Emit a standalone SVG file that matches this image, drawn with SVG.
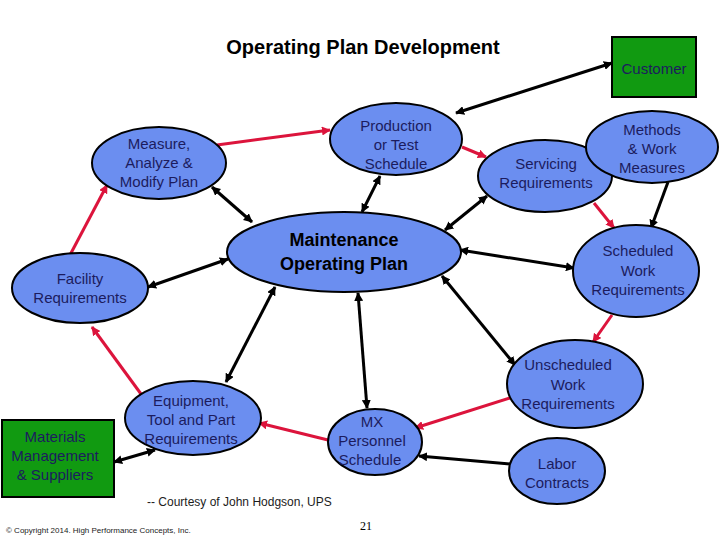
<svg xmlns="http://www.w3.org/2000/svg" width="720" height="540" viewBox="0 0 720 540">
<defs>
<style>
.n{fill:#6b8ef0;stroke:#000;stroke-width:2}
.g{fill:#119a11;stroke:#000;stroke-width:2}
.t{font-family:"Liberation Sans",Arial,sans-serif;font-size:15px;fill:#1c1c5e;text-anchor:middle}
.b{font-family:"Liberation Sans",Arial,sans-serif;font-size:18px;font-weight:bold;fill:#000;text-anchor:middle}
.r{stroke:#dc143c;stroke-width:3;fill:none;marker-end:url(#ar)}
.k{stroke:#000;stroke-width:3;fill:none;marker-end:url(#ak)}
.d{marker-start:url(#aks)}
</style>
<marker id="ar" viewBox="0 0 10 10" refX="9" refY="5" markerWidth="3" markerHeight="3" orient="auto"><path d="M0,0L10,5L0,10z" fill="#dc143c"/></marker>
<marker id="ak" viewBox="0 0 10 10" refX="9" refY="5" markerWidth="3" markerHeight="3" orient="auto"><path d="M0,0L10,5L0,10z" fill="#000"/></marker>
<marker id="aks" viewBox="0 0 10 10" refX="1" refY="5" markerWidth="3" markerHeight="3" orient="auto"><path d="M10,0L0,5L10,10z" fill="#000"/></marker>
</defs>
<rect width="720" height="540" fill="#fff"/>
<text x="363" y="54" font-family="Liberation Sans,Arial,sans-serif" font-size="20" font-weight="bold" text-anchor="middle">Operating Plan Development</text>
<g id="connectors">
<line class="r" x1="217" y1="145" x2="330" y2="130"/>
<line class="r" x1="70" y1="255" x2="107" y2="185"/>
<line class="r" x1="141" y1="394" x2="92" y2="327"/>
<line class="r" x1="328" y1="440" x2="259" y2="423"/>
<line class="r" x1="510" y1="398" x2="415" y2="428"/>
<line class="r" x1="612" y1="315" x2="593" y2="342"/>
<line class="r" x1="594" y1="203" x2="614" y2="228"/>
<line class="r" x1="462" y1="147" x2="486" y2="157"/>
<line class="k d" x1="456" y1="113" x2="612" y2="63"/>
<line class="k d" x1="252" y1="222" x2="212" y2="187"/>
<line class="k d" x1="362" y1="212" x2="380" y2="176"/>
<line class="k d" x1="228" y1="259" x2="148" y2="287"/>
<line class="k d" x1="445" y1="230" x2="487" y2="196"/>
<line class="k d" x1="460" y1="250" x2="574" y2="268"/>
<line class="k d" x1="442" y1="276" x2="515" y2="365"/>
<line class="k d" x1="358" y1="293" x2="367" y2="408"/>
<line class="k d" x1="275" y1="287" x2="226" y2="382"/>
<line class="k" x1="668" y1="182" x2="651" y2="228"/>
<line class="k d" x1="114" y1="462" x2="155" y2="450"/>
<line class="k" x1="510" y1="464" x2="419" y2="456"/>
</g>
<g id="customer"><rect class="g" x="612" y="37" width="84" height="60"/><text class="t" x="654" y="74">Customer</text></g>
<g id="measure"><ellipse class="n" cx="159" cy="163" rx="67" ry="36"/><text class="t" x="159" y="149">Measure,</text><text class="t" x="159" y="168">Analyze &amp;</text><text class="t" x="159" y="187">Modify Plan</text></g>
<g id="production"><ellipse class="n" cx="396" cy="139" rx="66" ry="36"/><text class="t" x="396" y="131">Production</text><text class="t" x="396" y="150">or Test</text><text class="t" x="396" y="169">Schedule</text></g>
<g id="maintenance"><ellipse class="n" cx="344" cy="252" rx="117" ry="40"/><text class="b" x="344" y="246">Maintenance</text><text class="b" x="344" y="270">Operating Plan</text></g>
<g id="facility"><ellipse class="n" cx="80" cy="288" rx="68" ry="35"/><text class="t" x="80" y="284">Facility</text><text class="t" x="80" y="303">Requirements</text></g>
<g id="servicing"><ellipse class="n" cx="545" cy="176" rx="67" ry="36"/><text class="t" x="546" y="169">Servicing</text><text class="t" x="546" y="188">Requirements</text></g>
<g id="methods"><ellipse class="n" cx="652" cy="147" rx="66" ry="36"/><text class="t" x="652" y="135">Methods</text><text class="t" x="652" y="154">&amp; Work</text><text class="t" x="652" y="173">Measures</text></g>
<g id="scheduled"><ellipse class="n" cx="636" cy="271" rx="63" ry="46"/><text class="t" x="638" y="256">Scheduled</text><text class="t" x="638" y="276">Work</text><text class="t" x="638" y="295">Requirements</text></g>
<g id="unscheduled"><ellipse class="n" cx="575" cy="384" rx="68" ry="44"/><text class="t" x="568" y="370">Unscheduled</text><text class="t" x="568" y="390">Work</text><text class="t" x="568" y="409">Requirements</text></g>
<g id="equipment"><ellipse class="n" cx="193" cy="418" rx="68" ry="37"/><text class="t" x="191" y="406">Equipment,</text><text class="t" x="191" y="425">Tool and Part</text><text class="t" x="191" y="444">Requirements</text></g>
<g id="mx"><ellipse class="n" cx="375" cy="442" rx="47" ry="33"/><text class="t" x="372" y="427">MX</text><text class="t" x="372" y="446">Personnel</text><text class="t" x="370" y="465">Schedule</text></g>
<g id="labor"><ellipse class="n" cx="557" cy="471" rx="48" ry="33"/><text class="t" x="557" y="469">Labor</text><text class="t" x="557" y="488">Contracts</text></g>
<g id="materials"><rect class="g" x="2" y="420" width="112" height="77"/><text class="t" x="55" y="442">Materials</text><text class="t" x="55" y="461">Management</text><text class="t" x="55" y="480">&amp; Suppliers</text></g>
<text x="147" y="506" font-family="Liberation Sans,Arial,sans-serif" font-size="12" fill="#1c1c1c">-- Courtesy of John Hodgson, UPS</text>
<text x="6" y="533" font-family="Liberation Sans Narrow,Liberation Sans,Arial,sans-serif" font-size="8" fill="#222">© Copyright 2014.  High Performance Concepts, Inc.</text>
<text x="366" y="530" font-family="Liberation Serif,serif" font-size="12" text-anchor="middle">21</text>
</svg>
